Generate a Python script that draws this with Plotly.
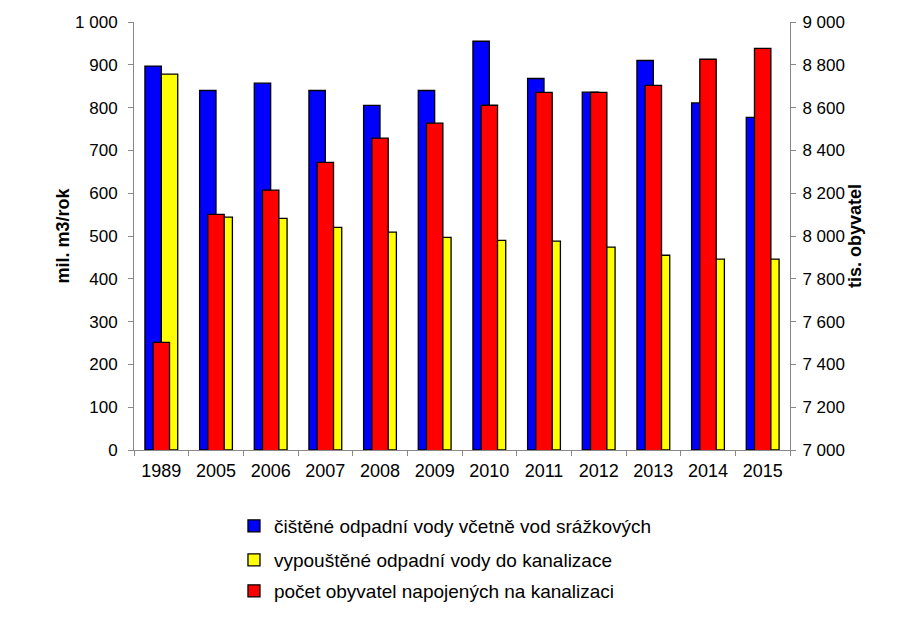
import plotly.graph_objects as go

years = ["1989", "2005", "2006", "2007", "2008", "2009", "2010", "2011", "2012", "2013", "2014", "2015"]
treated = [897, 840, 857, 840, 805, 840, 955, 868, 836, 910, 811, 777]
discharged = [878, 544, 541, 520, 509, 497, 490, 488, 474, 455, 446, 446]
connected = [7503, 8101, 8214, 8344, 8457, 8527, 8611, 8671, 8671, 8704, 8826, 8877]

names = [
    "čištěné odpadní vody včetně vod srážkových",
    "vypouštěné odpadní vody do kanalizace",
    "počet obyvatel napojených na kanalizaci",
]

FONT = "Liberation Sans, Arial, sans-serif"
line = dict(color="black", width=1.3)

fig = go.Figure()
fig.add_trace(go.Bar(x=years, y=treated, name=names[0], marker=dict(color="#0000FF", line=line),
                     width=0.3, offset=-0.3, legend="legend", yaxis="y"))
fig.add_trace(go.Bar(x=years, y=discharged, name=names[1], marker=dict(color="#FFFF00", line=line),
                     width=0.3, offset=0.0, legend="legend2", yaxis="y"))
fig.add_trace(go.Bar(x=years, y=connected, name=names[2], marker=dict(color="#FF0000", line=line),
                     width=0.3, offset=-0.15, legend="legend3", yaxis="y2"))

axis_common = dict(
    showgrid=False, zeroline=False, showline=True, linecolor="#888888", linewidth=1,
    ticks="outside", ticklen=5, tickcolor="#888888", automargin=False,
)

leg_common = dict(x=0.1524, xanchor="left", yanchor="top", orientation="v",
                  font=dict(family=FONT, size=19, color="black"),
                  itemwidth=30, bgcolor="rgba(0,0,0,0)")

fig.update_layout(
    width=907, height=615,
    margin=dict(l=126, r=125, t=14, b=173),
    paper_bgcolor="white", plot_bgcolor="white",
    barmode="overlay",
    separators=", ",
    font=dict(family=FONT, size=18, color="black"),
    xaxis=dict(type="category", tickson="boundaries", ticklabelstandoff=4,
               tickfont=dict(family=FONT, size=18, color="black"), **axis_common),
    yaxis=dict(range=[0, 1000], dtick=100, tickformat=",d", ticklabelstandoff=7,
               tickfont=dict(family=FONT, size=17, color="black"),
               title=dict(text="<b>mil. m3/rok</b>", font=dict(family=FONT, size=18), standoff=0),
               **axis_common),
    yaxis2=dict(range=[7000, 9000], dtick=200, tickformat=",d", overlaying="y", side="right",
                ticklabelstandoff=3,
                tickfont=dict(family=FONT, size=17, color="black"),
                title=dict(text="<b>tis. obyvatel</b>", font=dict(family=FONT, size=18), standoff=3),
                **axis_common),
    legend=dict(y=-0.1332, **leg_common),
    legend2=dict(y=-0.2126, **leg_common),
    legend3=dict(y=-0.2850, **leg_common),
    showlegend=True,
)

fig.write_html("out.html")
